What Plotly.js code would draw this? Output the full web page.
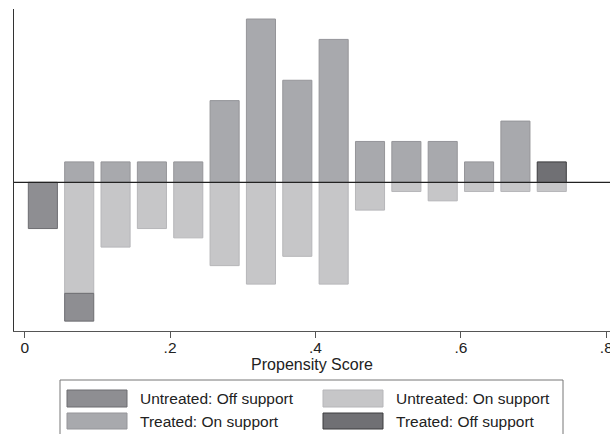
<!DOCTYPE html>
<html>
<head>
<meta charset="utf-8">
<script src="https://cdn.plot.ly/plotly-3.0.1.min.js"></script>
<style>html,body{margin:0;padding:0;background:#fff;}#chart{width:610px;height:434px;}</style>
</head>
<body>
<div id="chart"></div>
<script>
// Bin centres of the propensity score histogram (bin width 0.05)
const binCenters = [0.025,0.075,0.125,0.175,0.225,0.275,0.325,0.375,0.425,0.475,0.525,0.575,0.625,0.675,0.725];
// Densities (treated drawn upward, untreated drawn downward)
const treatedOn   = [null,0.0256,0.0256,0.0256,0.0256,0.1026,0.2051,0.1282,0.1795,0.0513,0.0513,0.0513,0.0256,0.0769,null];
const treatedOff  = [null,null,null,null,null,null,null,null,null,null,null,null,null,null,0.0256];
const untreatedOn = [null,-0.1395,-0.0814,-0.0581,-0.0698,-0.1047,-0.1279,-0.0930,-0.1279,-0.0349,-0.0116,-0.0233,-0.0116,-0.0116,-0.0116];
const untreatedOff= [-0.0581,-0.0349,null,null,null,null,null,null,null,null,null,null,null,null,null];
const tickVals = [0,0.2,0.4,0.6,0.8];
const tickText = ["0",".2",".4",".6",".8"];
const legendLabels = ["Untreated: Off support","Untreated: On support","Treated: On support","Treated: Off support"];

const C = {
  uOff:{fill:"#8e8e92",line:"#6d6d71"},
  uOn:{fill:"#c6c6c8",line:"#b6b6b9"},
  tOn:{fill:"#a8a9ad",line:"#959599"},
  tOff:{fill:"#707074",line:"#3c3c3f"}
};
const FONT = "Liberation Sans, Arial, Helvetica, sans-serif";
function bar(y, c, name){
  return {type:"bar", x:binCenters, y:y, width:0.04, name:name,
    marker:{color:c.fill, line:{color:c.line, width:1}}, hoverinfo:"skip", showlegend:false};
}
const data = [
  bar(treatedOn, C.tOn, legendLabels[2]),
  bar(treatedOff, C.tOff, legendLabels[3]),
  bar(untreatedOn, C.uOn, legendLabels[1]),
  bar(untreatedOff, C.uOff, legendLabels[0])
];

// pixel helpers for legend placement
const W=610,H=434,ML=14,MR=0,MT=9,MB=103;
const pw=W-ML-MR, ph=H-MT-MB;
const px=x=>(x-ML)/pw, py=y=>(H-MB-y)/ph;

const shapes = [
  {type:"line", xref:"paper", yref:"y", x0:0, x1:1, y0:0, y1:0, line:{color:"#222", width:1.2}, layer:"above"},
  {type:"rect", xref:"paper", yref:"paper", x0:px(60), x1:px(563), y0:py(380), y1:py(440), line:{color:"#777", width:1}, fillcolor:"rgba(0,0,0,0)"}
];
const annotations = [];
const legendItems = [
  {c:C.uOff, col:0,row:0, t:legendLabels[0]},
  {c:C.uOn, col:1,row:0, t:legendLabels[1]},
  {c:C.tOn, col:0,row:1, t:legendLabels[2]},
  {c:C.tOff, col:1,row:1, t:legendLabels[3]}
];
const swX=[67,323], txX=[138,394], rowY=[[390,407],[413,429]];
legendItems.forEach(it=>{
  const x0=swX[it.col], ys=rowY[it.row];
  shapes.push({type:"rect", xref:"paper", yref:"paper", x0:px(x0), x1:px(x0+60), y0:py(ys[1]), y1:py(ys[0]),
    fillcolor:it.c.fill, line:{color:it.c.line, width:1}});
  annotations.push({xref:"paper", yref:"paper", x:px(txX[it.col]), y:py((ys[0]+ys[1])/2), xanchor:"left", yanchor:"middle",
    text:it.t, showarrow:false, font:{family:FONT, size:15.5, color:"#222"}});
});

const layout = {
  width:W, height:H, margin:{l:ML,r:MR,t:MT,b:MB,pad:0},
  paper_bgcolor:"#fff", plot_bgcolor:"#fff",
  barmode:"relative", bargap:0, showlegend:false,
  font:{family:FONT, color:"#222"},
  xaxis:{range:[-0.0147,0.8051], tickvals:tickVals, ticktext:tickText, ticks:"outside", ticklen:6, tickcolor:"#555", tickwidth:1,
    ticklabelstandoff:-4, ticklabeloverflow:"allow",
    showline:true, linecolor:"#555", linewidth:1, showgrid:false, zeroline:false,
    tickfont:{size:15.5, color:"#222", family:FONT},
    title:{text:"Propensity Score", font:{size:16, color:"#222", family:FONT}, standoff:2}},
  yaxis:{range:[-0.1868,0.2177], showticklabels:false, ticks:"", showline:true, linecolor:"#333", linewidth:1.2,
    showgrid:false, zeroline:false},
  shapes:shapes, annotations:annotations
};
Plotly.newPlot("chart", data, layout, {displayModeBar:false, staticPlot:true});
</script>
</body>
</html>
